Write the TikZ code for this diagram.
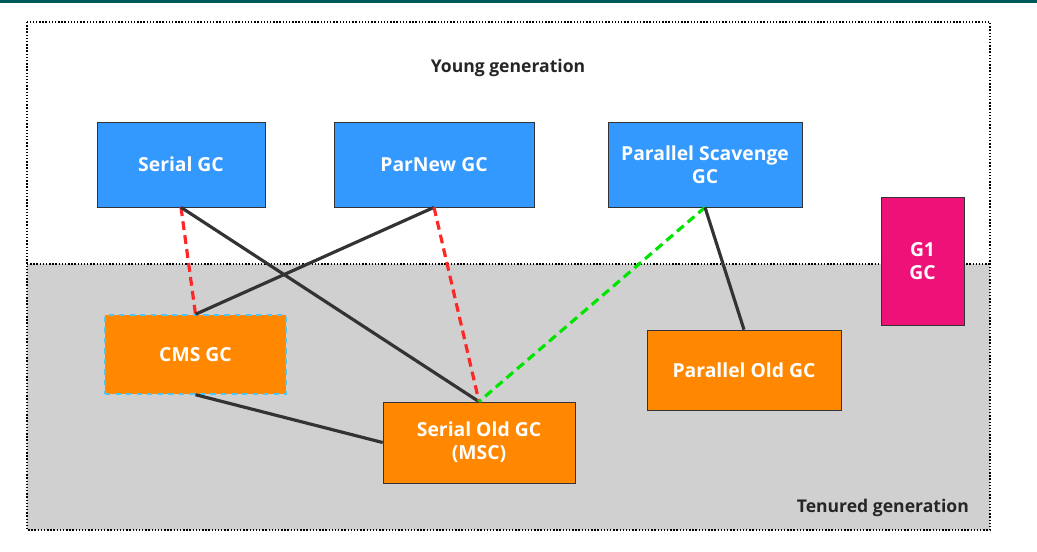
\documentclass[tikz,border=0pt]{standalone}
\usepackage{fontspec}
\setmainfont{Open Sans}
\usetikzlibrary{positioning,calc}
\definecolor{gcblue}{RGB}{51,153,255}
\definecolor{gcorange}{RGB}{255,136,0}
\definecolor{gcpink}{RGB}{238,17,119}
\definecolor{tenured}{RGB}{208,208,208}
\begin{document}
\begin{tikzpicture}[x=0.02cm, y=-0.02cm,
    every node/.style={font=\fontsize{11}{13}\selectfont\bfseries},
    young/.style={draw=black!80, fill=gcblue, text=white, inner sep=0pt, align=center},
    old/.style={draw=black!80, fill=gcorange, text=white, inner sep=0pt, align=center},
    pair/.style={line width=1.8pt, black!80},
    weak/.style={line width=1.8pt, dashed, dash pattern=on 5pt off 3pt}]
    \useasboundingbox (0,0) rectangle (1037,551);
    \fill[white] (0,0) rectangle (1037,551);
    \fill[teal!70!black] (0,0) rectangle (1037,3);
    % Generations
    \fill[tenured] (27,264) rectangle (990,530);
    \draw[densely dotted, thick] (27,22) rectangle (990,530);
    \draw[densely dotted, thick] (27,264) -- (990,264);
    \node[font=\fontsize{10}{12}\selectfont\bfseries, text=black!85] (younglbl) at (508,68) {Young generation};
    \node[font=\fontsize{10}{12}\selectfont\bfseries, text=black!85, anchor=east] (oldlbl) at (975,508) {Tenured generation};

    % Young collectors
    \node[young, minimum width=168*0.02cm, minimum height=85*0.02cm] (serial) at (181,164.5) {Serial GC};
    \node[young, minimum width=200*0.02cm, minimum height=85*0.02cm] (parnew) at (434,164.5) {ParNew GC};
    \node[young, minimum width=194*0.02cm, minimum height=85*0.02cm] (scavenge) at (705,164.5) {Parallel Scavenge\\GC};
    \node[draw=black!80, fill=gcpink, text=white, align=center, inner sep=0pt, minimum width=83*0.02cm, minimum height=128*0.02cm] (gone) at (922.5,261) {G1\\GC};

    % Old collectors
    \node[fill=gcorange, draw=cyan!70, dashed, thick, text=white, inner sep=0pt, minimum width=181*0.02cm, minimum height=79*0.02cm] (cms) at (195.5,354.5) {CMS GC};
    \node[old, minimum width=192*0.02cm, minimum height=81*0.02cm] (serialold) at (479,442.5) {Serial Old GC\\(MSC)};
    \node[old, minimum width=194*0.02cm, minimum height=80*0.02cm] (parold) at (744,370) {Parallel Old GC};

    % Combinations
    \draw[weak, red!85] (serial.south) -- (cms.north);
    \draw[pair] (serial.south) -- (serialold.north);
    \draw[pair] (parnew.south) -- (cms.north);
    \draw[weak, red!85] (parnew.south) -- (serialold.north);
    \draw[weak, green!90!black] (scavenge.south) -- (serialold.north);
    \draw[pair] (scavenge.south) -- (parold.north);
    \draw[pair] (cms.south) -- (serialold.west);
\end{tikzpicture}
\end{document}
